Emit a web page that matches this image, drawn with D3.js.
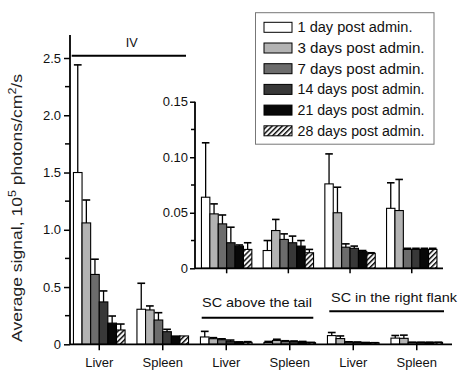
<!DOCTYPE html>
<html><head><meta charset="utf-8">
<script src="https://cdnjs.cloudflare.com/ajax/libs/d3/7.8.5/d3.min.js"></script>
<style>html,body{margin:0;padding:0;background:#fff;}svg{display:block;font-family:"Liberation Sans",Arial,sans-serif;}</style>
</head><body><div id="chart"></div>
<script>
// ---- data ----
const categories = ["Liver","Spleen","Liver","Spleen","Liver","Spleen"];
const routes = ["IV","SC above the tail","SC in the right flank"];
const seriesNames = ["1 day post admin.","3 days post admin.","7 days post admin.","14 days post admin.","21 days post admin.","28 days post admin."];
// mean values per series, one entry per category
const day1  = [1.50, 0.306, 0.064, 0.016, 0.076, 0.054];
const day3  = [1.06, 0.300, 0.049, 0.034, 0.050, 0.052];
const day7  = [0.61, 0.212, 0.040, 0.026, 0.019, 0.017];
const day14 = [0.37, 0.110, 0.023, 0.023, 0.018, 0.017];
const day21 = [0.185,0.073, 0.020, 0.020, 0.015, 0.017];
const day28 = [0.125,0.073, 0.017, 0.014, 0.0135,0.017];
// error (SD) per series
const err1  = [0.94, 0.227, 0.049, 0.009, 0.027, 0.023];
const err3  = [0.20, 0.035, 0.009, 0.010, 0.023, 0.028];
const err7  = [0.133,0.064, 0.008, 0.005, 0.003, 0.001];
const err14 = [0.096,0.021, 0.014, 0.006, 0.002, 0.001];
const err21 = [0.062,0.0,   0.001, 0.005, 0.001, 0.001];
const err28 = [0.052,0.0,   0.006, 0.003, 0.0005,0.001];
const mainTicks = [0, 0.5, 1.0, 1.5, 2.0, 2.5];
const insetTicks = [0, 0.05, 0.10, 0.15];

const values = [day1, day3, day7, day14, day21, day28];
const errors = [err1, err3, err7, err14, err21, err28];
const fills = ["#ffffff", "#b3b3b3", "#6c6c6c", "#383838", "#080808", "url(#hatch)"];

const W = 460, H = 371;
const svg = d3.select("#chart").append("svg").attr("width", W).attr("height", H);
const defs = svg.append("defs");
const pat = defs.append("pattern").attr("id","hatch").attr("patternUnits","userSpaceOnUse")
  .attr("width",3.6).attr("height",3.6).attr("patternTransform","rotate(45)");
pat.append("rect").attr("width",3.6).attr("height",3.6).attr("fill","#fff");
pat.append("rect").attr("x",0).attr("width",1.5).attr("height",3.6).attr("fill","#111");

const data = [];
categories.forEach((c, ci) => {
  seriesNames.forEach((s, si) => {
    data.push({ci, si, v: values[si][ci], e: errors[si][ci]});
  });
});

function drawBars(g, rows, x, inner, y) {
  const gr = g.append("g");
  rows.forEach(d => {
    const bx = x(d.ci) + inner(d.si);
    const bw = inner.bandwidth();
    gr.append("rect").attr("x", bx).attr("y", y(d.v)).attr("width", bw)
      .attr("height", Math.max(0, y(0) - y(d.v))).attr("fill", fills[d.si])
      .attr("stroke", "#000").attr("stroke-width", 1.1);
  });
  rows.forEach(d => {
    if (d.e <= 0) return;
    const cx = x(d.ci) + inner(d.si) + inner.bandwidth() / 2;
    const cw = inner.bandwidth() * 0.45;
    gr.append("line").attr("x1", cx).attr("x2", cx).attr("y1", y(d.v)).attr("y2", y(d.v + d.e))
      .attr("stroke", "#000").attr("stroke-width", 1.3);
    gr.append("line").attr("x1", cx - cw).attr("x2", cx + cw).attr("y1", y(d.v + d.e)).attr("y2", y(d.v + d.e))
      .attr("stroke", "#000").attr("stroke-width", 1.6);
  });
}

// ---- main chart ----
const mainLeft = 70, mainRight = 452;
const y = d3.scaleLinear().domain([0, 2.7]).range([344.3, 35.1]);
const x = d3.scaleBand().domain(d3.range(categories.length)).range([67.5, 448.5]).paddingInner(0).paddingOuter(0);
const inner = d3.scaleBand().domain(d3.range(seriesNames.length)).range([x.bandwidth()/2 - 25.8, x.bandwidth()/2 + 25.8]);

drawBars(svg, data, x, inner, y);

// y axis
const yAxis = svg.append("g").attr("transform", `translate(${mainLeft},0)`)
  .call(d3.axisLeft(y).tickValues(mainTicks).tickSize(6).tickPadding(3)
    .tickFormat(d => d === 0 ? "0" : d3.format(".1f")(d)));
yAxis.select(".domain").remove();
yAxis.selectAll("text").attr("font-size", 13).attr("fill", "#111").attr("font-family", "Liberation Sans, Arial, sans-serif");
yAxis.selectAll("line").attr("stroke-width", 1.5);
const minor = d3.range(0.25, 2.6, 0.5);
svg.append("g").selectAll("line").data(minor).join("line")
  .attr("x1", mainLeft - 5).attr("x2", mainLeft).attr("y1", d => y(d)).attr("y2", d => y(d))
  .attr("stroke", "#000").attr("stroke-width", 1.5);
svg.append("line").attr("x1", mainLeft).attr("x2", mainLeft).attr("y1", y.range()[1]).attr("y2", y(0))
  .attr("stroke", "#000").attr("stroke-width", 1.8);

// x axis
const xAxis = svg.append("g").attr("transform", `translate(0,${y(0)})`)
  .call(d3.axisBottom(x).tickSize(6).tickPadding(7).tickFormat(i => categories[i]));
xAxis.select(".domain").remove();
xAxis.selectAll("text").attr("font-size", 13).attr("fill", "#111").attr("font-family", "Liberation Sans, Arial, sans-serif");
xAxis.selectAll("line").attr("stroke-width", 1.5);
svg.append("line").attr("x1", mainLeft).attr("x2", mainRight).attr("y1", y(0)).attr("y2", y(0))
  .attr("stroke", "#000").attr("stroke-width", 1.8);

// y label
const yl = svg.append("text").attr("transform", "translate(22,208) rotate(-90)")
  .attr("text-anchor", "middle").attr("font-size", 14).attr("fill", "#222")
  .attr("textLength", 268).attr("lengthAdjust", "spacingAndGlyphs");
yl.append("tspan").text("Average signal, 10");
yl.append("tspan").attr("dy", -6).attr("font-size", 10).text("5");
yl.append("tspan").attr("dy", 6).text(" photons/cm");
yl.append("tspan").attr("dy", -6).attr("font-size", 10).text("2");
yl.append("tspan").attr("dy", 6).text("/s");

// route brackets
const brackets = [
  {t: routes[0], tx: 131.7, ty: 47, x1: 71.7, x2: 186, ly: 55.7, w: 12},
  {t: routes[1], tx: 257, ty: 307, x1: 201.7, x2: 313.3, ly: 317.7, w: 110},
  {t: routes[2], tx: 394, ty: 301.5, x1: 329.3, x2: 444, ly: 311.3, w: 126}
];
brackets.forEach(b => {
  svg.append("text").attr("x", b.tx).attr("y", b.ty).attr("text-anchor", "middle")
    .attr("font-size", 13).attr("fill", "#111").attr("textLength", b.w).attr("lengthAdjust", "spacingAndGlyphs").text(b.t);
  svg.append("line").attr("x1", b.x1).attr("x2", b.x2).attr("y1", b.ly).attr("y2", b.ly)
    .attr("stroke", "#000").attr("stroke-width", 2);
});

// ---- inset ----
const insetLeft = 195, insetRight = 443;
const yi = d3.scaleLinear().domain([0, 0.15]).range([268.3, 101.7]);
const xi = d3.scaleBand().domain([2,3,4,5]).range([195.8, 442.6]);
const inneri = d3.scaleBand().domain(d3.range(seriesNames.length)).range([xi.bandwidth()/2 - 25.2, xi.bandwidth()/2 + 25.2]);
drawBars(svg, data.filter(d => d.ci >= 2), xi, inneri, yi);

const yiAxis = svg.append("g").attr("transform", `translate(${insetLeft},0)`)
  .call(d3.axisLeft(yi).tickValues(insetTicks).tickSize(5).tickPadding(2)
    .tickFormat(d => d === 0 ? "0" : d3.format(".2f")(d)));
yiAxis.select(".domain").remove();
yiAxis.selectAll("text").attr("font-size", 13).attr("fill", "#111").attr("font-family", "Liberation Sans, Arial, sans-serif");
yiAxis.selectAll("line").attr("stroke-width", 1.5);
svg.append("g").selectAll("line").data([0.025, 0.075, 0.125]).join("line")
  .attr("x1", insetLeft - 4).attr("x2", insetLeft).attr("y1", d => yi(d)).attr("y2", d => yi(d))
  .attr("stroke", "#000").attr("stroke-width", 1.5);
svg.append("line").attr("x1", insetLeft).attr("x2", insetLeft).attr("y1", yi(0.15)).attr("y2", yi(0))
  .attr("stroke", "#000").attr("stroke-width", 1.8);
const xiAxis = svg.append("g").attr("transform", `translate(0,${yi(0)})`)
  .call(d3.axisBottom(xi).tickSize(5).tickFormat(""));
xiAxis.select(".domain").remove();
xiAxis.selectAll("line").attr("stroke-width", 1.5);
svg.append("line").attr("x1", insetLeft).attr("x2", insetRight).attr("y1", yi(0)).attr("y2", yi(0))
  .attr("stroke", "#000").attr("stroke-width", 1.8);

// ---- legend ----
const lg = svg.append("g");
lg.append("rect").attr("x", 255.5).attr("y", 12.7).attr("width", 178.5).attr("height", 131.5)
  .attr("fill", "#fff").attr("stroke", "#777").attr("stroke-width", 1);
seriesNames.forEach((s, i) => {
  const cy = 27.3 + i * 20.7;
  lg.append("rect").attr("x", 264).attr("y", cy - 5).attr("width", 28).attr("height", 10)
    .attr("fill", fills[i]).attr("stroke", "#000").attr("stroke-width", 1);
  lg.append("text").attr("x", 297.5).attr("y", cy + 5).attr("font-size", 14).attr("fill", "#111")
    .attr("textLength", i === 0 ? 115 : 127).attr("lengthAdjust", "spacingAndGlyphs").text(s);
});
</script></body></html>
